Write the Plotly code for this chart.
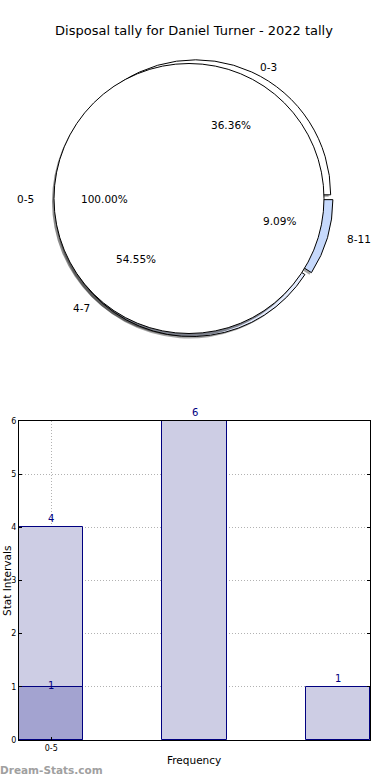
import math
import plotly.graph_objects as go

# ---------------- data ----------------
title_text = "Disposal tally for Daniel Turner - 2022 tally"

pie_labels = ["0-3", "4-7", "8-11"]
pie_values = [4, 6, 1]
pie_colors = ["#ffffff", "#e4ecff", "#c6d9fc"]

pie2_labels = ["0-5"]
pie2_values = [1]

bar_positions = [0, 1, 2]
bar_values = [4, 6, 1]
bar2_positions = [0]
bar2_values = [1]
x_tick_vals = [0]
x_tick_text = ["0-5"]
y_ticks = [0, 1, 2, 3, 4, 5, 6]

# ---------------- layout constants ----------------
W, H = 390, 780
FONT = "DejaVu Sans"
cx_w, cy_w = 189, 198.5    # centre of the single-slice (white) pie, px
cx_o, cy_o = 194, 198.5    # centre of the three-slice pie, px
R = 135                    # pie radius px
pull = 0.03


def dom(cx, cy, r_px, dx=0, dy=0):
    x0, y0 = cx + dx, cy + dy
    return dict(x=[(x0 - r_px) / W, (x0 + r_px) / W],
                y=[1 - (y0 + r_px) / H, 1 - (y0 - r_px) / H])


def start_rotation(values):
    # plotly: counterclockwise pies put the first slice clockwise of `rotation`;
    # make the first slice start at 3 o'clock like matplotlib's startangle=0
    return 90 - 360 * values[0] / sum(values)


fig = go.Figure()

# soft shadows
fig.add_trace(go.Pie(
    labels=pie_labels, values=pie_values, sort=False,
    direction="counterclockwise", rotation=start_rotation(pie_values),
    marker=dict(colors=["rgba(0,0,0,0.35)"] * 3, line=dict(width=0)),
    pull=[pull] * len(pie_values), textinfo="none", hoverinfo="skip",
    domain=dom(cx_o, cy_o, R * (1 + pull), -2, 2), showlegend=False,
))
fig.add_trace(go.Pie(
    labels=pie_labels, values=pie_values, sort=False,
    direction="counterclockwise", rotation=start_rotation(pie_values),
    marker=dict(colors=pie_colors, line=dict(color="black", width=1)),
    pull=[pull] * len(pie_values), textinfo="none", hoverinfo="label+percent",
    domain=dom(cx_o, cy_o, R * (1 + pull)), showlegend=False,
))
fig.add_trace(go.Pie(
    labels=pie2_labels, values=pie2_values, sort=False,
    marker=dict(colors=["rgba(0,0,0,0.45)"], line=dict(width=0)),
    textinfo="none", hoverinfo="skip",
    domain=dom(cx_w, cy_w, R, -2, 3), showlegend=False,
))
fig.add_trace(go.Pie(
    labels=pie2_labels, values=pie2_values, sort=False,
    marker=dict(colors=["#ffffff"], line=dict(color="black", width=1)),
    textinfo="none", hoverinfo="label+percent",
    domain=dom(cx_w, cy_w, R), showlegend=False,
))

annotations = []
# label positions (matplotlib-like: labels at 1.1 r, pct at 0.6 r, elliptic axes)
rx, ry = 141, 128


def pie_labels_ann(labels, values, explode, cx, cy):
    total = sum(values)
    start = 0.0
    for lab, v in zip(labels, values):
        frac = v / total
        mid = math.radians(360 * (start + frac / 2))
        start += frac
        c, s = math.cos(mid), math.sin(mid)
        ox, oy = explode * rx * c, explode * ry * s
        lx = cx + ox + 1.1 * rx * c
        ly = cy - oy - 1.1 * ry * s
        annotations.append(dict(
            x=lx / W, y=1 - ly / H, xref="paper", yref="paper", text=lab,
            showarrow=False, borderpad=0, borderwidth=0,
            xanchor="left" if c > 0.001 else ("right" if c < -0.001 else "center"),
            yanchor="middle", font=dict(family=FONT, size=10.5, color="black")))
        px_ = cx + ox + 0.6 * rx * c
        py_ = cy - oy - 0.6 * ry * s
        annotations.append(dict(
            x=px_ / W, y=1 - py_ / H, xref="paper", yref="paper",
            text=f"{100 * frac:.2f}%", showarrow=False, xanchor="center",
            borderpad=0, borderwidth=0,
            yanchor="middle", font=dict(family=FONT, size=10.5, color="black")))


pie_labels_ann(pie_labels, pie_values, pull, cx_o, cy_o)
pie_labels_ann(pie2_labels, pie2_values, 0.0, cx_w, cy_w)

# ---------------- bars ----------------
navy = "#000080"
fig.add_trace(go.Bar(
    x=bar_positions, y=bar_values, width=0.45,
    marker=dict(color="rgb(205,205,228)", line=dict(color=navy, width=1)),
    showlegend=False, xaxis="x", yaxis="y",
))
fig.add_trace(go.Bar(
    x=bar2_positions, y=bar2_values, width=0.45,
    marker=dict(color="rgb(163,163,208)", line=dict(color=navy, width=1)),
    showlegend=False, xaxis="x", yaxis="y",
))

for xv, yv in zip(bar_positions, bar_values):
    annotations.append(dict(x=xv, y=yv, xref="x", yref="y", text=str(yv),
                            showarrow=False, yanchor="bottom", yshift=1,
                            font=dict(family=FONT, size=10, color=navy)))
for xv, yv in zip(bar2_positions, bar2_values):
    annotations.append(dict(x=xv, y=yv, xref="x", yref="y", text=str(yv),
                            showarrow=False, yanchor="middle", yshift=1,
                            font=dict(family=FONT, size=10, color=navy)))

annotations.append(dict(x=0.0, y=0.0, xref="paper", yref="paper", text="<b>Dream-Stats.com</b>",
                        showarrow=False, xanchor="left", yanchor="bottom", yshift=2, xshift=-2,
                        font=dict(family=FONT, size=10.5, color="#a0a0a0")))
annotations.append(dict(x=7 / W, y=1 - 581 / H, xref="paper", yref="paper", text="Stat Intervals",
                        showarrow=False, textangle=-90, xanchor="center", yanchor="middle",
                        font=dict(family=FONT, size=10.5, color="black")))
annotations.append(dict(x=194 / W, y=1 - 760 / H, xref="paper", yref="paper", text="Frequency",
                        showarrow=False, xanchor="center", yanchor="middle",
                        font=dict(family=FONT, size=10.5, color="black")))

grid = "rgba(170,170,170,0.9)"
fig.update_layout(
    width=W, height=H, autosize=False,
    margin=dict(l=0, r=0, t=0, b=0, pad=0, autoexpand=False),
    paper_bgcolor="white", plot_bgcolor="white",
    barmode="overlay", bargap=0,
    font=dict(family=FONT, color="black"),
    title=dict(text=title_text, x=194 / W, xanchor="center", y=1 - 30 / H, yanchor="middle",
               automargin=False, font=dict(family=FONT, size=13, color="black")),
    xaxis=dict(domain=[19 / W, 370 / W], range=[-0.225, 2.225], tickvals=x_tick_vals,
               ticktext=x_tick_text, showgrid=True, gridcolor=grid, griddash="1px,2px", gridwidth=1,
               showline=True, linecolor="black", linewidth=1, mirror=True,
               ticks="inside", ticklen=3, tickcolor="black", automargin=False,
               tickfont=dict(family=FONT, size=8), zeroline=False, fixedrange=True),
    yaxis=dict(domain=[1 - 740 / H, 1 - 421 / H], range=[0, 6], tickvals=y_ticks,
               showgrid=True, gridcolor=grid, griddash="1px,2px", gridwidth=1,
               showline=True, linecolor="black", linewidth=1, mirror="ticks",
               ticks="inside", ticklen=3, tickcolor="black", automargin=False,
               tickfont=dict(family=FONT, size=8), zeroline=False, fixedrange=True),
    annotations=annotations,
)

fig.write_html("out.html",
               config={"displayModeBar": False, "responsive": False},
               post_script="document.body.style.margin='0';document.body.style.overflow='hidden';")
